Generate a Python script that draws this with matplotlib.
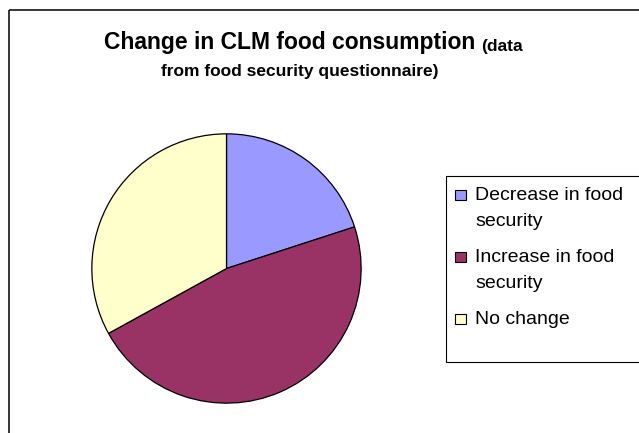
import matplotlib.pyplot as plt
from matplotlib.patches import Rectangle

plt.rcParams['font.family'] = ['Liberation Sans', 'DejaVu Sans']

# survey answers (percent of households)
categories = ['Decrease in food\nsecurity', 'Increase in food\nsecurity', 'No change']
shares = [20, 47, 33]
colors = ['#9999FF', '#993366', '#FFFFCC']

W, H = 639, 433
fig = plt.figure(figsize=(W / 100, H / 100), dpi=100)

# overlay in pixel coordinates for frame, title and legend
bg = fig.add_axes([0, 0, 1, 1])
bg.set_xlim(0, W)
bg.set_ylim(H, 0)
bg.axis('off')

# chart area border
bg.add_patch(Rectangle((9, 10), 700, 500, fill=False, ec='black', lw=1.1))

# title: large bold part plus smaller note
t1 = bg.text(104, 49, 'Change in CLM food consumption ', fontsize=16.5,
             fontweight='bold', va='baseline', ha='left')
bg.annotate('(data', xy=(1, 0), xycoords=t1, xytext=(0, 0),
            textcoords='offset points', fontsize=12.5, fontweight='bold',
            va='bottom', ha='left')
bg.text(300, 76, 'from food security questionnaire)', fontsize=12.5,
        fontweight='bold', va='baseline', ha='center')

# pie
cx, cy, r = 226.5, 268.5, 136
pax = fig.add_axes([(cx - r) / W, (H - cy - r) / H, 2 * r / W, 2 * r / H])
pax.pie(shares, colors=colors, startangle=90, counterclock=False,
        radius=1, wedgeprops=dict(edgecolor='black', linewidth=0.9))
pax.set_xlim(-1.01, 1.01)
pax.set_ylim(-1.01, 1.01)
pax.set_aspect('equal')

# legend box
bg.add_patch(Rectangle((446, 176), 300, 186, fill=False, ec='black', lw=0.8))
entry_top = [200, 262, 324]
for lab, col, yb in zip(categories, colors, entry_top):
    bg.add_patch(Rectangle((455, yb - 10.5), 10.5, 10.5, fc=col, ec='black', lw=0.8))
    for k, line in enumerate(lab.split('\n')):
        bg.text(475, yb + 26 * k, line, fontsize=14, va='baseline', ha='left')

fig.savefig('out.png', dpi=100)
